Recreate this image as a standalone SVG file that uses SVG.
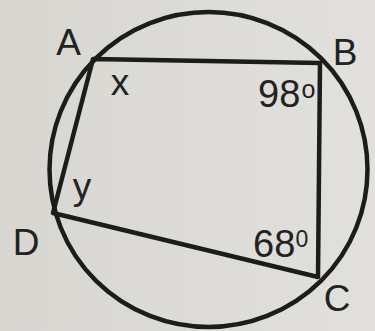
<svg xmlns="http://www.w3.org/2000/svg" width="375" height="331" viewBox="0 0 375 331">
<style>
.ln{fill:none;stroke:#1c1c1c;stroke-width:4.5;stroke-linejoin:round;stroke-linecap:round}
.lb{font-family:"Liberation Sans",Arial,sans-serif;fill:#222;font-size:37px;text-anchor:middle}
.nm{font-family:"Liberation Sans",Arial,sans-serif;fill:#222;font-size:38px}
.sup{font-family:"Liberation Sans",Arial,sans-serif;fill:#222;font-size:24px}
</style>
<defs>
<linearGradient id="bg" x1="0" y1="0" x2="1" y2="0">
<stop offset="0" stop-color="#d7d6d1"/>
<stop offset="1" stop-color="#e1e0dc"/>
</linearGradient>
</defs>
<rect width="375" height="331" fill="url(#bg)"/>
<g id="connectors">
<ellipse class="ln" cx="208.5" cy="169.5" rx="159" ry="157.5"/>
<polygon class="ln" points="93,59 320,63 318,277 53,213"/>
</g>
<g id="A"><text class="lb" x="68.5" y="55">A</text></g>
<g id="B"><text class="lb" x="345" y="65">B</text></g>
<g id="C"><text class="lb" x="337" y="311">C</text></g>
<g id="D"><text class="lb" x="26" y="255">D</text></g>
<g id="angle-x"><text class="lb" x="120" y="95">x</text></g>
<g id="angle-y"><text class="lb" x="82" y="199">y</text></g>
<g id="angle-B"><text class="nm" x="258" y="107">98</text><text class="sup" x="301.5" y="98" style="font-size:25px">o</text></g>
<g id="angle-C"><text class="nm" x="253" y="257">68</text><text class="sup" x="295.5" y="247" style="font-size:23px">0</text></g>
</svg>
